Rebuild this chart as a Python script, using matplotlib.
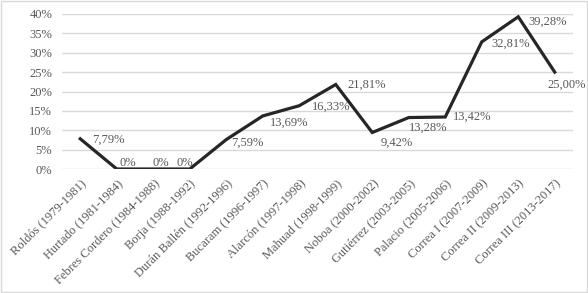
import numpy as np
import matplotlib.pyplot as plt
from matplotlib.patches import Rectangle

plt.rcParams['font.family'] = ['Liberation Serif', 'DejaVu Serif']

gobiernos = ['Roldós (1979-1981)', 'Hurtado (1981-1984)', 'Febres Cordero (1984-1988)',
             'Borja (1988-1992)', 'Durán Ballén (1992-1996)', 'Bucaram (1996-1997)',
             'Alarcón (1997-1998)', 'Mahuad (1998-1999)', 'Noboa (2000-2002)',
             'Gutiérrez (2003-2005)', 'Palacio (2005-2006)', 'Correa I (2007-2009)',
             'Correa II (2009-2013)', 'Correa III (2013-2017)']
valores = [7.79, 0, 0, 0, 7.59, 13.69, 16.33, 21.81, 9.42, 13.28, 13.42, 32.81, 39.28, 25.00]
etiquetas = ['7,79%', '0%', '0%', '0%', '7,59%', '13,69%', '16,33%', '21,81%',
             '9,42%', '13,28%', '13,42%', '32,81%', '39,28%', '25,00%']

# label offsets in pixels (dx, dy) relative to each point
offs = [(12, -1), (3, 6), (-1, 6), (-13, 6), (5, -3), (7, -7), (13, -1), (12, 0),
        (8, -10), (0, -10), (8, 0), (10, -2), (10, -5), (-7, -13)]

gris = '#595959'
fig = plt.figure(figsize=(5.88, 2.93), dpi=100)
ax = fig.add_axes([62/588, 1-169/293, 511/588, 155/293])

x = np.arange(len(valores))
ax.plot(x, valores, color='#262626', lw=2.3, solid_joinstyle='miter', zorder=3)
for xi, v, t, (dx, dy) in zip(x, valores, etiquetas, offs):
    ax.annotate(t, (xi, v), xytext=(dx, dy), textcoords='offset pixels',
                ha='left', va='center', fontsize=9, color=gris)

ax.set_xlim(-0.5, len(valores)-0.5)
ax.set_ylim(0, 40)
ax.set_yticks(np.arange(0, 41, 5))
ax.set_yticklabels([f'{v}%' for v in range(0, 41, 5)])
ax.set_xticks(x)
ax.set_xticklabels(gobiernos, rotation=45, ha='right', rotation_mode='anchor')
ax.tick_params(length=0, labelsize=9, labelcolor=gris)
ax.tick_params(axis='y', pad=7)
ax.tick_params(axis='x', pad=6)
ax.grid(axis='y', color='#d9d9d9', lw=1)
ax.set_axisbelow(True)
for s in ax.spines.values():
    s.set_visible(False)

fig.patches.append(Rectangle((0.001, 0.002), 0.997, 0.995, transform=fig.transFigure,
                             fill=False, edgecolor='#d9d9d9', lw=1))
fig.savefig('out.png', dpi=100)
